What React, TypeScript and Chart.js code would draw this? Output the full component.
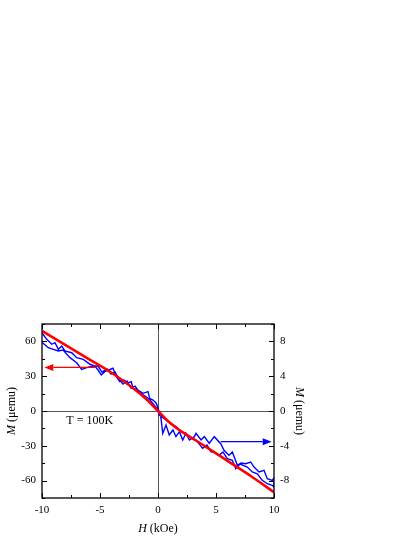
import React, { useEffect, useRef } from "react";
import { Chart, registerables } from "chart.js";

Chart.register(...registerables);

// Red curve (left axis, M in μemu)
const H_RED = [-10, -8, -6, -4, -2, -1, 0, 1, 2, 4, 6, 8, 10];
const M_RED = [69, 57, 45, 33, 18.5, 10, 0, -10, -17.5, -30, -43, -56, -70];

// Blue loop (right axis, M in μemu): branch A
const H_BLUE_A = [
  -10, -9.59, -9.16, -8.88, -8.59, -8.3, -8.02, -7.44, -7.01, -6.44, -5.86, -5.43,
  -5.17, -4.89, -4.59, -3.88, -3.59, -3.3, -2.93, -2.59, -2.3, -2.16, -1.72, -1.29, -0.86, -0.72, -0.43, -0.15, 0,
  0.26, 0.41, 0.69, 0.97, 1.29, 1.55, 1.84, 2.13, 2.41, 2.7, 3.13, 3.28, 3.71, 3.99, 4.42, 4.85,
  5.41, 5.69, 6.12, 6.41, 6.84, 7.16, 7.56, 7.99, 8.28, 8.71, 9.14, 9.42, 9.85, 10,
];
const M_BLUE_A = [
  8.97, 8.24, 7.67, 7.85, 7.09, 7.47, 6.9, 6.7, 6.13, 5.94, 5.37, 5.17,
  4.71, 4.14, 4.52, 4.91, 3.94, 3.37, 3.56, 3.22, 3.37, 2.61, 2.41, 2.03, 2.22, 1.46, 1.26, 0.89, 0.34,
  -0.84, -2.56, -1.61, -2.76, -2.18, -2.95, -2.38, -3.33, -2.56, -3.33, -2.95, -2.56, -3.33, -2.95, -3.71, -2.95,
  -3.76, -4.52, -5.09, -4.71, -6.24, -5.98, -6.06, -5.86, -6.44, -7.01, -6.82, -7.78, -7.97, -7.7,
];
// Blue loop: branch B
const H_BLUE_B = [
  -10, -9.46, -9.03, -8.59, -8.19, -7.59, -7.01, -6.58, -6.15, -5.58,
  -5.17, -4.83, -4.4, -4.05, -3.71, -3.36, -3.02, -2.67, -2.33, -1.98, -1.55, -1.12, -0.69, -0.34, 0,
  0.11, 0.69, 1.12, 1.55, 1.98, 2.41, 2.84, 3.28, 3.85, 4.22, 4.57, 4.83,
  5.26, 5.6, 5.97, 6.41, 6.7, 7.07, 7.7, 8.13, 8.56, 8.99, 9.42, 9.85, 10,
];
const M_BLUE_B = [
  7.9, 7.28, 7.09, 6.9, 7.01, 6.13, 5.55, 4.79, 4.98, 5.17,
  5.17, 4.48, 4.83, 4.25, 4.48, 3.68, 3.1, 3.45, 2.64, 2.87, 2.07, 1.72, 1.26, 0.69, 0.11,
  -0.46, -1.03, -1.49, -1.8, -2.41, -2.56, -3.1, -3.33, -4.29, -3.91, -4.68, -4.71,
  -5.09, -4.71, -5.48, -5.67, -6.63, -6.09, -6.44, -7.01, -7.21, -7.97, -8.36, -8.54, -8.74,
];

// Tick labels
const X_LABELS = [-10, -5, 0, 5, 10];
const YL_LABELS = [-60, -30, 0, 30, 60];
const YR_LABELS = [-8, -4, 0, 4, 8];

// Arrows [H, M] in the axis they point to
const RED_ARROW_FROM = [-5.3, 37.6];
const RED_ARROW_TO = [-9.8, 37.6];
const BLUE_ARROW_FROM = [5.41, -3.53];
const BLUE_ARROW_TO = [9.8, -3.53];
const TEMP_TEXT = "T = 100K";
const TEMP_POS = [-7.9, -8.3];

const FONT = '"Liberation Serif", "DejaVu Serif", serif';

function drawArrow(ctx: CanvasRenderingContext2D, x1: number, y1: number, x2: number, y2: number, color: string) {
  ctx.save();
  ctx.strokeStyle = color;
  ctx.fillStyle = color;
  ctx.lineWidth = 1.2;
  const dir = Math.sign(x2 - x1);
  const head = 9;
  ctx.beginPath();
  ctx.moveTo(x1, y1);
  ctx.lineTo(x2 - dir * head, y2);
  ctx.stroke();
  ctx.beginPath();
  ctx.moveTo(x2, y2);
  ctx.lineTo(x2 - dir * head, y2 - 3.5);
  ctx.lineTo(x2 - dir * head, y2 + 3.5);
  ctx.closePath();
  ctx.fill();
  ctx.restore();
}

function drawMixed(ctx: CanvasRenderingContext2D, italic: string, rest: string, size: number) {
  ctx.font = `italic ${size}px ${FONT}`;
  const w1 = ctx.measureText(italic).width;
  ctx.font = `${size}px ${FONT}`;
  const w2 = ctx.measureText(rest).width;
  const start = -(w1 + w2) / 2;
  ctx.textBaseline = "middle";
  ctx.textAlign = "left";
  ctx.font = `italic ${size}px ${FONT}`;
  ctx.fillText(italic, start, 0);
  ctx.font = `${size}px ${FONT}`;
  ctx.fillText(rest, start + w1, 0);
}

const deco = {
  id: "deco",
  beforeDatasetsDraw(chart: any) {
    const { ctx, chartArea } = chart;
    const { left, right, top, bottom } = chartArea;
    const x = chart.scales.x;
    const y = chart.scales.y;
    ctx.save();
    ctx.strokeStyle = "#555";
    ctx.lineWidth = 1;
    const px = Math.round(x.getPixelForValue(0)) + 0.5;
    const py = Math.round(y.getPixelForValue(0)) + 0.5;
    ctx.beginPath();
    ctx.moveTo(px, top);
    ctx.lineTo(px, bottom);
    ctx.moveTo(left, py);
    ctx.lineTo(right, py);
    ctx.stroke();
    ctx.restore();
  },
  afterDatasetsDraw(chart: any) {
    const { ctx, chartArea } = chart;
    const { left, right, top, bottom } = chartArea;
    const x = chart.scales.x;
    const y = chart.scales.y;
    const y2 = chart.scales.y2;
    ctx.save();
    ctx.strokeStyle = "#000";
    ctx.lineWidth = 1.3;
    ctx.strokeRect(left, top, right - left, bottom - top);
    ctx.lineWidth = 1;
    ctx.beginPath();
    x.ticks.forEach((t: any) => {
      const p = Math.round(x.getPixelForValue(t.value)) + 0.5;
      const len = t.label !== "" ? 5 : 3;
      ctx.moveTo(p, bottom);
      ctx.lineTo(p, bottom - len);
      ctx.moveTo(p, top);
      ctx.lineTo(p, top + len);
    });
    y.ticks.forEach((t: any) => {
      const p = Math.round(y.getPixelForValue(t.value)) + 0.5;
      const len = t.label !== "" ? 5 : 3;
      ctx.moveTo(left, p);
      ctx.lineTo(left + len, p);
    });
    y2.ticks.forEach((t: any) => {
      const p = Math.round(y2.getPixelForValue(t.value)) + 0.5;
      const len = t.label !== "" ? 5 : 3;
      ctx.moveTo(right, p);
      ctx.lineTo(right - len, p);
    });
    ctx.stroke();

    drawArrow(
      ctx,
      x.getPixelForValue(RED_ARROW_FROM[0]), y.getPixelForValue(RED_ARROW_FROM[1]),
      x.getPixelForValue(RED_ARROW_TO[0]), y.getPixelForValue(RED_ARROW_TO[1]),
      "#ff0000"
    );
    drawArrow(
      ctx,
      x.getPixelForValue(BLUE_ARROW_FROM[0]), y2.getPixelForValue(BLUE_ARROW_FROM[1]),
      x.getPixelForValue(BLUE_ARROW_TO[0]), y2.getPixelForValue(BLUE_ARROW_TO[1]),
      "#0000ff"
    );

    ctx.fillStyle = "#000";
    ctx.font = `12px ${FONT}`;
    ctx.textAlign = "left";
    ctx.textBaseline = "middle";
    ctx.fillText(TEMP_TEXT, x.getPixelForValue(TEMP_POS[0]), y.getPixelForValue(TEMP_POS[1]));

    const cy = (top + bottom) / 2;
    ctx.save();
    ctx.translate(12, cy);
    ctx.rotate(-Math.PI / 2);
    drawMixed(ctx, "M", " (\u03bcemu)", 12);
    ctx.restore();

    ctx.save();
    ctx.translate(299, cy);
    ctx.rotate(Math.PI / 2);
    drawMixed(ctx, "M", " (\u03bcemu)", 12);
    ctx.restore();

    ctx.save();
    ctx.translate((left + right) / 2, 529);
    drawMixed(ctx, "H", " (kOe)", 12);
    ctx.restore();

    ctx.restore();
  },
};

export default function App() {
  const ref = useRef<HTMLCanvasElement>(null);
  useEffect(() => {
    if (!ref.current) return;
    const redData = H_RED.map((h, i) => ({ x: h, y: M_RED[i] }));
    const blueData = [
      ...H_BLUE_A.map((h, i) => ({ x: h, y: M_BLUE_A[i] })),
      ...H_BLUE_B.map((h, i) => ({ x: h, y: M_BLUE_B[i] })).reverse(),
    ];
    const tickFont = { family: FONT, size: 11 };
    const chart = new Chart(ref.current, {
      type: "scatter",
      data: {
        datasets: [
          {
            data: redData,
            yAxisID: "y",
            showLine: true,
            borderColor: "#ff0000",
            borderWidth: 2.6,
            pointRadius: 0,
            tension: 0.3,
          },
          {
            data: blueData,
            yAxisID: "y2",
            showLine: true,
            borderColor: "#0000ff",
            borderWidth: 1.4,
            pointRadius: 0,
            tension: 0,
          },
        ],
      },
      options: {
        animation: false,
        responsive: false,
        layout: { padding: { top: 324, left: 0, right: 0, bottom: 0 } },
        plugins: { legend: { display: false }, tooltip: { enabled: false } },
        scales: {
          x: {
            type: "linear",
            min: -10,
            max: 10,
            grid: { display: false, drawTicks: false },
            border: { display: false },
            afterFit: (s: any) => { s.height = 39; },
            ticks: {
              stepSize: 2.5,
              autoSkip: false,
              maxRotation: 0,
              padding: 6,
              color: "#000",
              font: tickFont,
              callback: (v: any) => (X_LABELS.includes(Number(v)) ? String(v) : ""),
            },
          },
          y: {
            type: "linear",
            position: "left",
            min: -75,
            max: 75,
            grid: { display: false, drawTicks: false },
            border: { display: false },
            afterFit: (s: any) => { s.width = 42; },
            ticks: {
              stepSize: 15,
              autoSkip: false,
              padding: 6,
              color: "#000",
              font: tickFont,
              callback: (v: any) => (YL_LABELS.includes(Number(v)) ? String(v) : ""),
            },
          },
          y2: {
            type: "linear",
            position: "right",
            min: -10,
            max: 10,
            grid: { display: false, drawTicks: false },
            border: { display: false },
            afterFit: (s: any) => { s.width = 141; },
            ticks: {
              stepSize: 2,
              autoSkip: false,
              padding: 6,
              color: "#000",
              font: tickFont,
              callback: (v: any) => (YR_LABELS.includes(Number(v)) ? String(v) : ""),
            },
          },
        },
      },
      plugins: [deco],
    } as any);
    return () => chart.destroy();
  }, []);
  return (
    <div style={{ position: "fixed", left: 0, top: 0, width: 415, height: 537, background: "#fff" }}>
      <canvas ref={ref} width={415} height={537} style={{ display: "block", width: 415, height: 537 }} />
    </div>
  );
}
